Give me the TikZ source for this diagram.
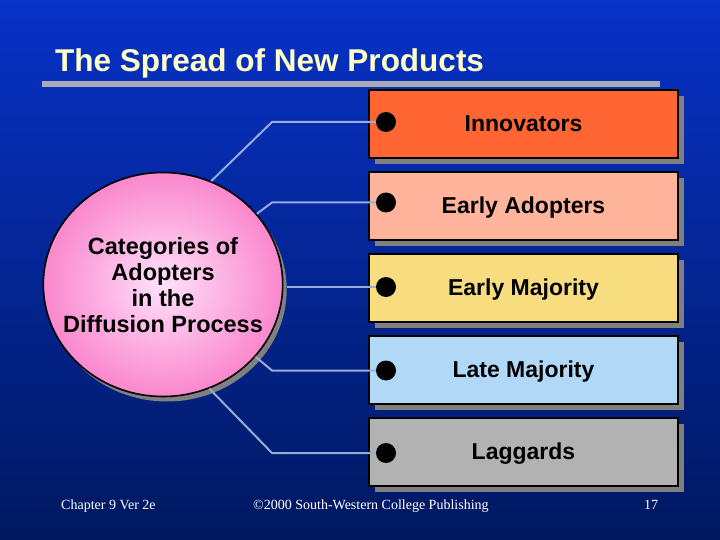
\documentclass[tikz,border=0pt]{standalone}
\usepackage{fontspec}
\usetikzlibrary{shapes.geometric,calc}
\newfontfamily\arialf{Liberation Sans}
\newfontfamily\tnrf{Liberation Serif}
\definecolor{bgtop}{RGB}{8,50,200}
\definecolor{bgbot}{RGB}{0,24,96}
\definecolor{titlecol}{RGB}{255,255,200}
\definecolor{barcol}{RGB}{170,170,182}
\definecolor{conncol}{RGB}{150,172,222}
\definecolor{shadowcol}{RGB}{128,128,128}
\definecolor{cInn}{RGB}{255,102,51}
\definecolor{cEA}{RGB}{255,180,155}
\definecolor{cEM}{RGB}{247,220,128}
\definecolor{cLM}{RGB}{178,216,248}
\definecolor{cLag}{RGB}{178,178,178}
\definecolor{pinkin}{RGB}{255,225,250}
\definecolor{pinkout}{RGB}{250,135,205}
\tikzset{
  catbox/.style={draw=black, line width=1.6pt, minimum width=309pt, minimum height=68pt,
    inner sep=0pt, text height=16.5pt, text depth=1pt,
    font=\arialf\bfseries\fontsize{23}{26}\selectfont},
  boxshadow/.style={fill=shadowcol, draw=none},
  bulletdot/.style={circle, fill=black, minimum size=20pt, inner sep=0pt},
  conn/.style={draw=conncol, line width=2pt},
  foot/.style={text=white, font=\tnrf\fontsize{14}{16}\selectfont, inner sep=0pt}
}
\begin{document}
\begin{tikzpicture}[x=1pt,y=-1pt]
\useasboundingbox (0,0) rectangle (720,540);
\shade[top color=bgtop, bottom color=bgbot] (0,0) rectangle (720,540);
% title
\node[anchor=base west, inner sep=0pt, text=titlecol, font=\arialf\bfseries\fontsize{31.5}{34}\selectfont] (title) at (55,72) {The Spread of New Products};
\fill[barcol] (42,81) rectangle (660,87);
% circle
\fill[shadowcol] (167,289.5) ellipse [x radius=119.7pt, y radius=112pt];
\node[ellipse, draw=black, line width=1.6pt, minimum width=239.4pt, minimum height=224pt,
  inner color=pinkin, outer color=pinkout] (circ) at (163,284.5) {};
\node[align=center, font=\arialf\bfseries\fontsize{23.5}{26}\selectfont] (ctext) at (163,285)
  {Categories of\\Adopters\\in the\\Diffusion Process};
% boxes
\foreach \t in {90,172,254,336,418}{
  \fill[boxshadow] (375,\t+6) rectangle (684,\t+74);
}
\node[catbox, fill=cInn] (box1) at (523.5,124) {Innovators};
\node[catbox, fill=cEA] (box2) at (523.5,206) {Early Adopters};
\node[catbox, fill=cEM] (box3) at (523.5,288) {Early Majority};
\node[catbox, fill=cLM] (box4) at (523.5,370) {Late Majority};
\node[catbox, fill=cLag] (box5) at (523.5,452) {Laggards};
% bullets
\node[bulletdot] (b1) at (386,122) {};
\node[bulletdot] (b2) at (386,202.5) {};
\node[bulletdot] (b3) at (386,287) {};
\node[bulletdot] (b4) at (386,370.5) {};
\node[bulletdot] (b5) at (386,453) {};
% connectors
\coordinate (kx) at (272,0);
\coordinate (kr) at (287,0);
\draw[conn] (circ.65) -- (kx |- b1) -- (b1.west);
\draw[conn] (circ.37) -- (kx |- b2) -- (b2.west);
\draw[conn] (kr |- b3) -- (b3.west);
\draw[conn] (circ.-38) -- (kx |- b4) -- (b4.west);
\draw[conn] (circ.-66) -- (kx |- b5) -- (b5.west);
% footer
\node[foot, anchor=base west] (f1) at (61,509) {Chapter 9 Ver 2e};
\node[foot, anchor=base west] (f2) at (253,509) {©2000 South-Western College Publishing};
\node[foot, anchor=base] (f3) at (651,509) {17};
\end{tikzpicture}
\end{document}
